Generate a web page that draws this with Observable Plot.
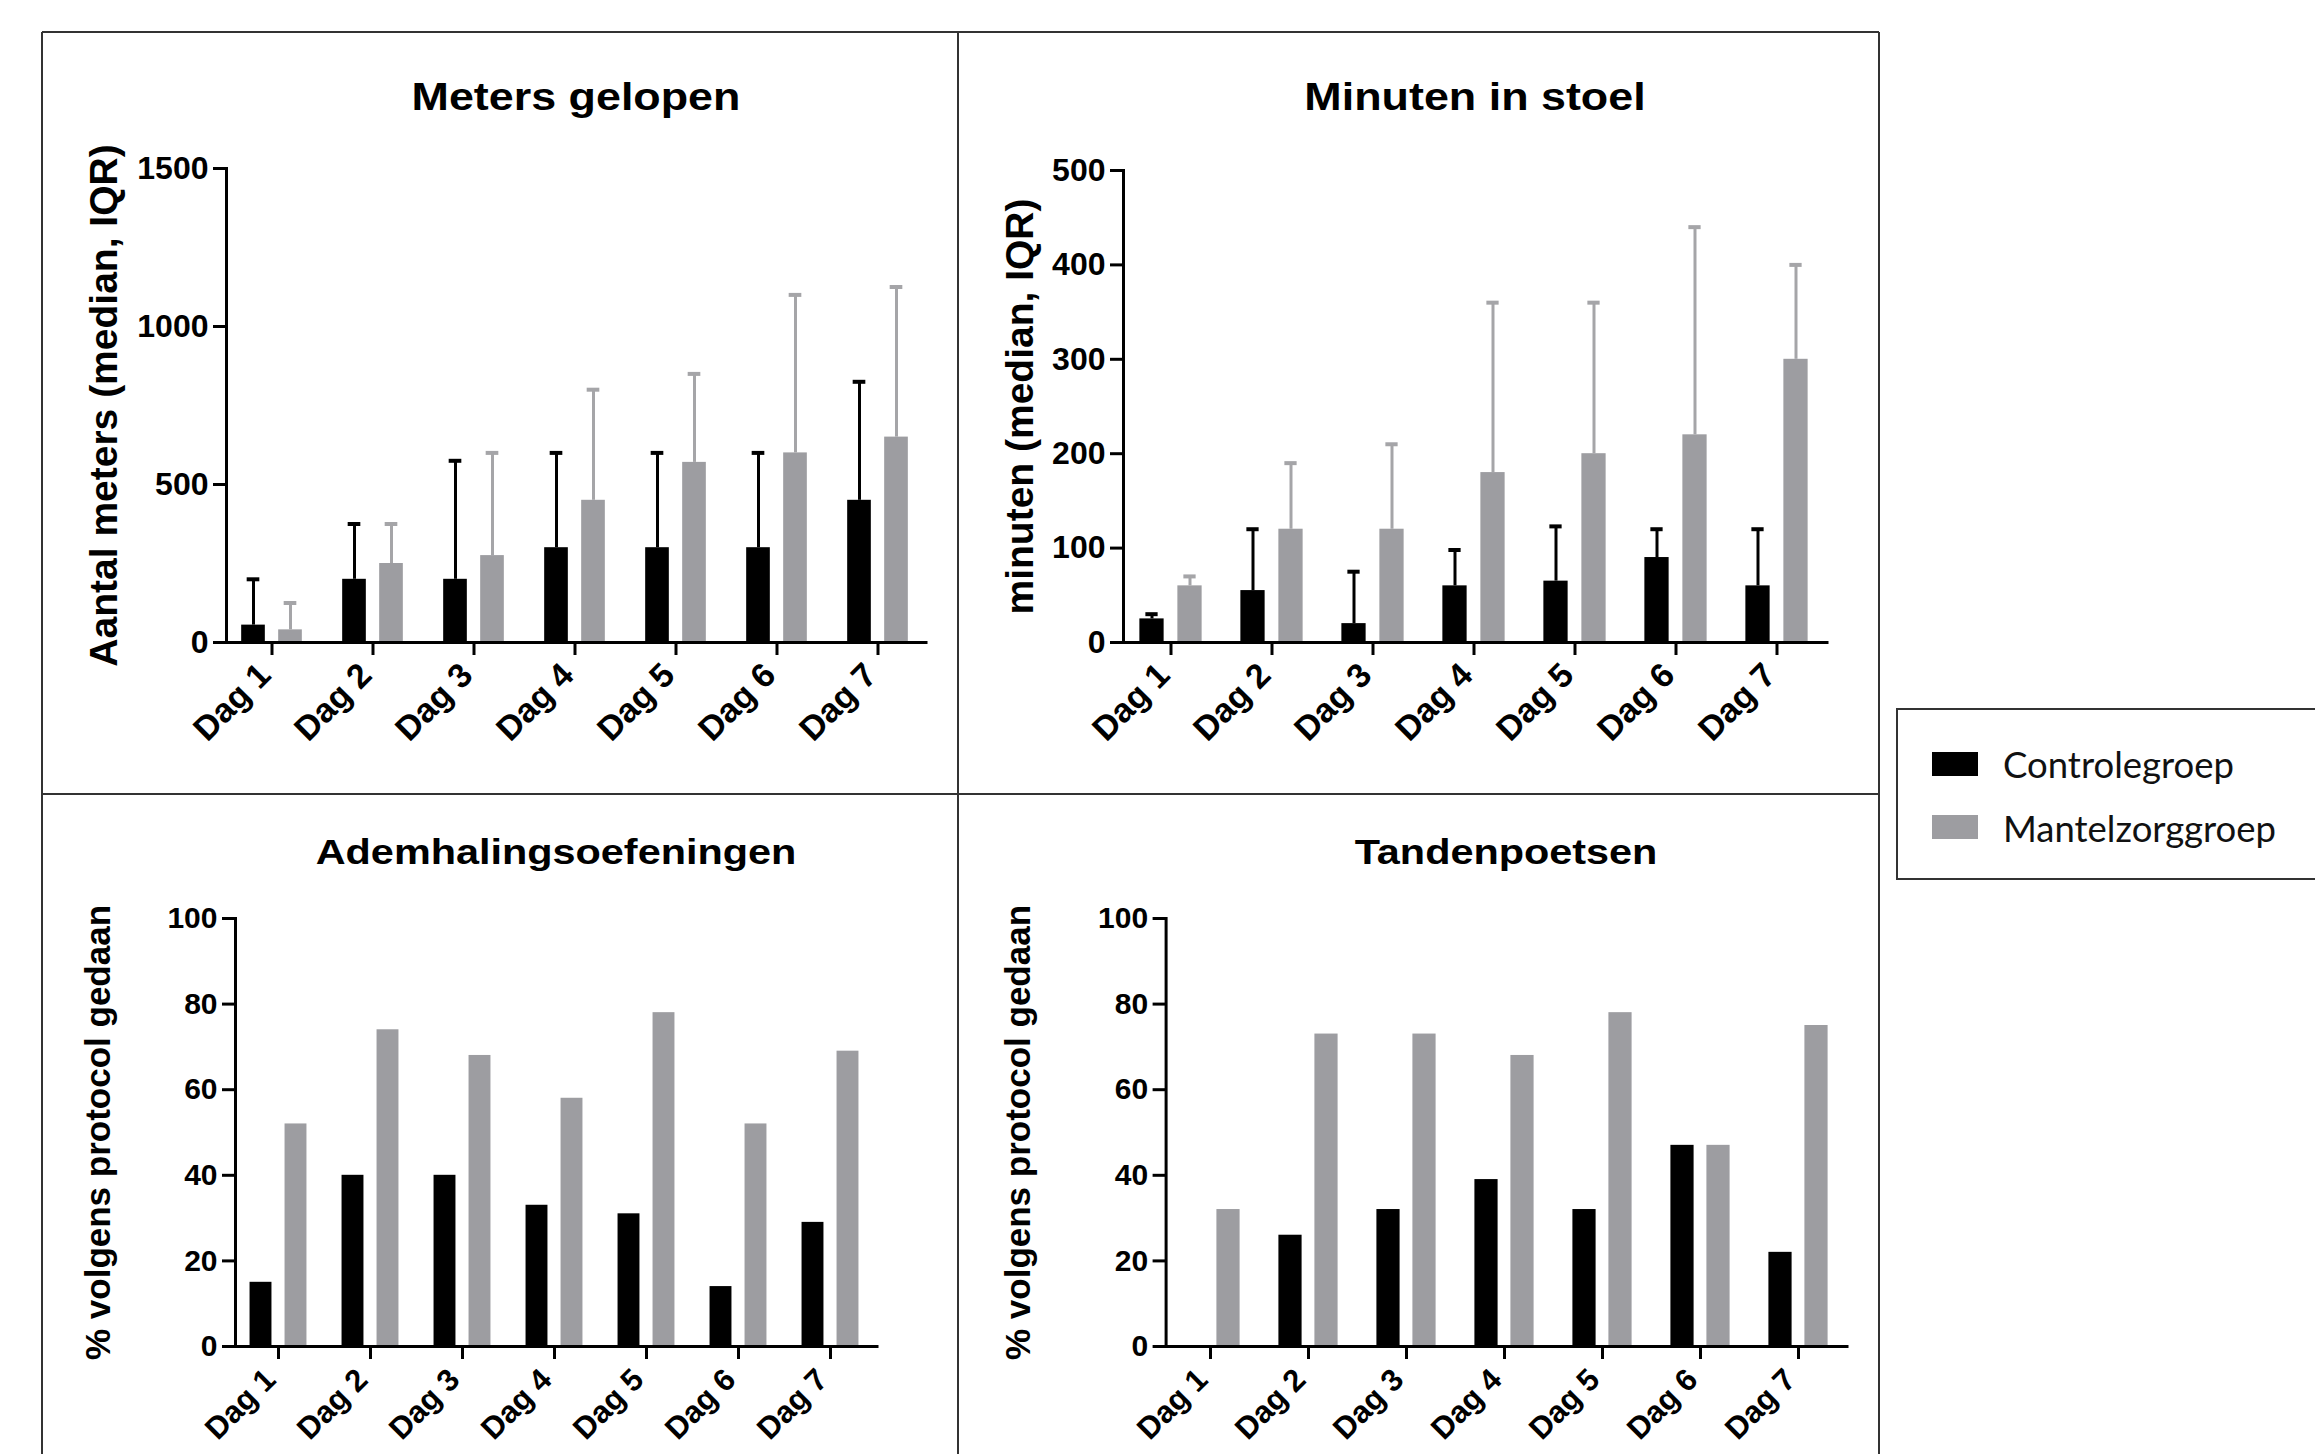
<!DOCTYPE html>
<html><head><meta charset="utf-8">
<script src="https://cdn.jsdelivr.net/npm/d3@7"></script>
<script src="https://cdn.jsdelivr.net/npm/@observablehq/plot@0.6"></script>
<style>
html,body{margin:0;padding:0;background:#fff;width:2315px;height:1454px;overflow:hidden;}
#page{position:relative;width:2315px;height:1454px;overflow:hidden;}
</style></head><body><div id="page"></div>
<script>
// ---------- data ----------
const days = ["Dag 1", "Dag 2", "Dag 3", "Dag 4", "Dag 5", "Dag 6", "Dag 7"];
const groups = ["Controlegroep", "Mantelzorggroep"];

// Meters gelopen (median, Q3)
const metersCtrlMedian = [55, 200, 200, 300, 300, 300, 450];
const metersCtrlQ3     = [200, 375, 575, 600, 600, 600, 825];
const metersMantMedian = [40, 250, 275, 450, 570, 600, 650];
const metersMantQ3     = [125, 375, 600, 800, 850, 1100, 1125];

// Minuten in stoel (median, Q3)
const minCtrlMedian = [25, 55, 20, 60, 65, 90, 60];
const minCtrlQ3     = [30, 120, 75, 98, 123, 120, 120];
const minMantMedian = [60, 120, 120, 180, 200, 220, 300];
const minMantQ3     = [70, 190, 210, 360, 360, 440, 400];

// Ademhalingsoefeningen (%)
const ademCtrl = [15, 40, 40, 33, 31, 14, 29];
const ademMant = [52, 74, 68, 58, 78, 52, 69];

// Tandenpoetsen (%)
const tandCtrl = [0, 26, 32, 39, 32, 47, 22];
const tandMant = [32, 73, 73, 68, 78, 47, 75];

const ticksMeters = [0, 500, 1000, 1500];
const ticksMin = [0, 100, 200, 300, 400, 500];
const ticksPct = [0, 20, 40, 60, 80, 100];

// ---------- styles ----------
const BLACK = "#000000";
const GRAY = "#9d9da1";
const GRAY_ERR = "#a5a5a8";
const LINE = "#333333";
const FONT = "'Liberation Sans', Arial, Helvetica, sans-serif";

const page = document.getElementById("page");

// ---------- overlay: borders, titles, legend ----------
const ov = d3.select(page).append("svg")
  .attr("width", 2315).attr("height", 1454)
  .style("position", "absolute").style("left", "0px").style("top", "0px");

[[42, 32, 1879, 32], [42, 32, 42, 1454], [1879, 32, 1879, 1454],
 [958, 32, 958, 1454], [42, 794, 1879, 794]].forEach(([x1, y1, x2, y2]) => {
  ov.append("line").attr("x1", x1).attr("y1", y1).attr("x2", x2).attr("y2", y2)
    .attr("stroke", LINE).attr("stroke-width", 2);
});

const titles = [
  {text: "Meters gelopen", x: 576, y: 110, size: 39},
  {text: "Minuten in stoel", x: 1475, y: 110, size: 39},
  {text: "Ademhalingsoefeningen", x: 556, y: 864, size: 36},
  {text: "Tandenpoetsen", x: 1506, y: 864, size: 36}
];
titles.forEach(t => {
  ov.append("text")
    .attr("transform", `translate(${t.x},${t.y}) scale(1.15,1)`)
    .attr("text-anchor", "middle")
    .attr("font-family", FONT).attr("font-weight", "bold").attr("font-size", t.size)
    .attr("fill", "#000").text(t.text);
});

// legend
ov.append("rect").attr("x", 1897).attr("y", 709).attr("width", 460).attr("height", 170)
  .attr("fill", "#fff").attr("stroke", LINE).attr("stroke-width", 2);
const legendColors = [BLACK, GRAY];
groups.forEach((g, i) => {
  const y0 = i === 0 ? 752 : 815;
  ov.append("rect").attr("x", 1932).attr("y", y0).attr("width", 46).attr("height", 24)
    .attr("fill", legendColors[i]);
  ov.append("text").attr("x", 2003).attr("y", i === 0 ? 778 : 842)
    .attr("font-family", "Lato, 'Open Sans', sans-serif").attr("font-size", 36.5)
    .attr("fill", "#111").text(g);
});

// ---------- panels ----------
function panel(cfg) {
  const step = (cfg.xr[1] - cfg.xr[0]) / days.length;
  const barInset = (step - cfg.bw) / 2;
  const capInset = (step - cfg.cap) / 2;
  const ctrlRows = days.map((d, i) => ({day: d, value: cfg.ctrl[i], q3: cfg.ctrlQ3 ? cfg.ctrlQ3[i] : null}));
  const mantRows = days.map((d, i) => ({day: d, value: cfg.mant[i], q3: cfg.mantQ3 ? cfg.mantQ3[i] : null}));
  const marks = [];
  if (cfg.ctrlQ3) {
    marks.push(
      Plot.ruleX(mantRows, {x: "day", y1: "value", y2: "q3", dx: cfg.off, stroke: GRAY_ERR, strokeWidth: 3}),
      Plot.tickY(mantRows, {x: "day", y: "q3", dx: cfg.off, insetLeft: capInset, insetRight: capInset, stroke: GRAY_ERR, strokeWidth: 4}),
      Plot.ruleX(ctrlRows, {x: "day", y1: "value", y2: "q3", dx: -cfg.off, stroke: BLACK, strokeWidth: 3}),
      Plot.tickY(ctrlRows, {x: "day", y: "q3", dx: -cfg.off, insetLeft: capInset, insetRight: capInset, stroke: BLACK, strokeWidth: 4})
    );
  }
  marks.push(
    Plot.barY(ctrlRows, {x: "day", y: "value", fill: BLACK, dx: -cfg.off, insetLeft: barInset, insetRight: barInset}),
    Plot.barY(mantRows, {x: "day", y: "value", fill: GRAY, dx: cfg.off, insetLeft: barInset, insetRight: barInset}),
    Plot.ruleY([0], {stroke: "#000", strokeWidth: 3, strokeLinecap: "square"}),
    Plot.frame({anchor: "left", stroke: "#000", strokeWidth: 3, strokeLinecap: "square"}),
    Plot.axisY({ticks: cfg.yTicks, tickFormat: "d", tickSize: 13, tickPadding: 5, strokeWidth: 3,
      fontSize: cfg.tickFont, label: null}),
    Plot.axisX({tickSize: 13, strokeWidth: 3, fill: "none", label: null}),
    Plot.axisX({tickSize: 0, tickPadding: cfg.dagPad, tickRotate: -45, dx: cfg.dagDx,
      fontSize: cfg.dagFont, label: null}),
    Plot.text([cfg.yLabel], {text: d => d, frameAnchor: "left", rotate: -90, dx: cfg.labelDx,
      textAnchor: "middle", lineAnchor: "middle", fontSize: cfg.labelFont, fontWeight: "bold"})
  );
  const chart = Plot.plot({
    width: cfg.width, height: cfg.height,
    marginLeft: cfg.ml, marginRight: cfg.mr, marginTop: cfg.mt, marginBottom: cfg.mb,
    style: {fontFamily: FONT, fontWeight: "bold", fontSize: cfg.tickFont + "px", color: "#000",
      background: "none", overflow: "visible"},
    x: {type: "band", domain: days, range: [cfg.xr[0] - cfg.left, cfg.xr[1] - cfg.left], padding: 0},
    y: {domain: cfg.yDomain},
    marks
  });
  chart.style.position = "absolute";
  chart.style.left = cfg.left + "px";
  chart.style.top = cfg.top + "px";
  chart.style.maxWidth = "none";
  page.appendChild(chart);
}

panel({left: 42, top: 130, width: 916, height: 663, ml: 184, mr: 32, mt: 38, mb: 151,
  xr: [219.3, 928.7], bw: 24, off: 18.5, cap: 13,
  ctrl: metersCtrlMedian, ctrlQ3: metersCtrlQ3, mant: metersMantMedian, mantQ3: metersMantQ3,
  yDomain: [0, 1500], yTicks: ticksMeters, yLabel: "Aantal meters (median, IQR)",
  labelDx: -122, tickFont: 32, labelFont: 39, dagFont: 34, dagPad: 27, dagDx: -7});

panel({left: 958, top: 130, width: 921, height: 663, ml: 165, mr: 52, mt: 40, mb: 151,
  xr: [1117.7, 1829.9], bw: 25, off: 19, cap: 13,
  ctrl: minCtrlMedian, ctrlQ3: minCtrlQ3, mant: minMantMedian, mantQ3: minMantQ3,
  yDomain: [0, 500], yTicks: ticksMin, yLabel: "minuten (median, IQR)",
  labelDx: -103, tickFont: 32, labelFont: 39, dagFont: 34, dagPad: 27, dagDx: -7});

panel({left: 42, top: 880, width: 916, height: 634, ml: 193, mr: 81, mt: 38, mb: 168,
  xr: [230.2, 878.3], bw: 22.5, off: 17.5, cap: 12,
  ctrl: ademCtrl, mant: ademMant,
  yDomain: [0, 100], yTicks: ticksPct, yLabel: "% volgens protocol gedaan",
  labelDx: -137, tickFont: 30, labelFont: 35, dagFont: 31, dagPad: 28, dagDx: -8});

panel({left: 958, top: 880, width: 921, height: 634, ml: 207.6, mr: 32, mt: 38, mb: 168,
  xr: [1158.2, 1849.9], bw: 24, off: 18, cap: 12,
  ctrl: tandCtrl, mant: tandMant,
  yDomain: [0, 100], yTicks: ticksPct, yLabel: "% volgens protocol gedaan",
  labelDx: -147.6, tickFont: 30, labelFont: 35, dagFont: 31, dagPad: 28, dagDx: -8});
</script>
</body></html>
